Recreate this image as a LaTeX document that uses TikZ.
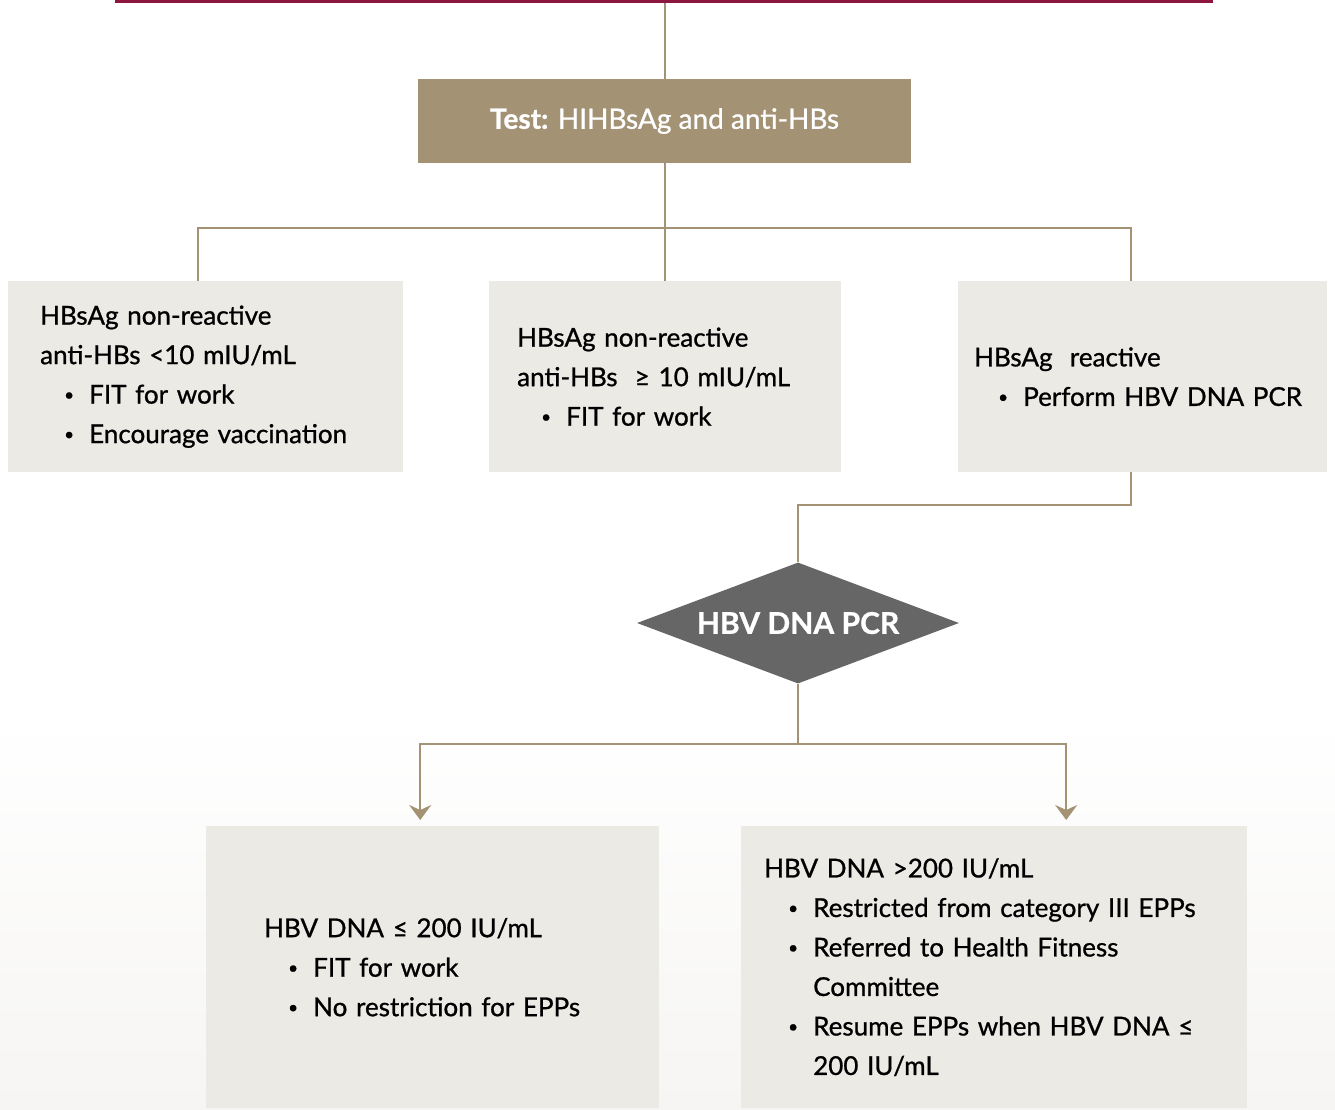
\documentclass[tikz,border=0pt]{standalone}
\usepackage{fontspec}
\setmainfont{Lato}[RawFeature={embolden=0.9}]
\usetikzlibrary{arrows.meta,shapes.geometric}

\definecolor{crimson}{RGB}{140,22,64}
\definecolor{tan}{RGB}{163,147,116}
\definecolor{boxgrey}{RGB}{236,234,229}
\definecolor{diagrey}{RGB}{102,102,102}

\newcommand{\dotmark}{\raisebox{3pt}{\fontsize{17}{17}\selectfont\textbullet}}
\newcommand{\itm}[1]{\hspace*{24pt}\makebox[25pt][l]{\dotmark}#1}
\newcommand{\cont}[1]{\hspace*{49pt}#1}

\tikzset{
  box/.style={rectangle, fill=boxgrey, anchor=north west, inner ysep=0pt,
    minimum height=191pt, align=left, font=\fontsize{26}{39.5}\selectfont},
  testbox/.style={rectangle, fill=tan, text=white, minimum width=493pt,
    minimum height=84pt, font=\fontsize{28}{32}\selectfont},
  decision/.style={diamond, fill=diagrey, text=white, inner sep=0pt, aspect=2.66,
    minimum width=322pt, minimum height=121pt, font=\fontsize{30}{34}\selectfont\bfseries},
  link/.style={draw=tan, line width=2pt},
  arr/.style={link, -{Stealth[length=15pt,width=22pt,inset=5pt]}, shorten >=6pt}
}

\begin{document}
\begin{tikzpicture}[x=1pt, y=-1pt]
  \useasboundingbox (0,0) rectangle (1335,1109);
  \fill[top color=white, bottom color={rgb,255:red,246;green,245;blue,243}] (0,715) rectangle (1335,1109);
  \draw[crimson, line width=3pt] (115,1.5) -- (1213,1.5);

  \coordinate (top) at (664.5,3);
  \node (test) [testbox] at (664.5,121) {\textbf{Test:} HIHBsAg and anti-HBs};

  \node (nonimm) [box, text width=331pt, inner xsep=32pt] at (8,281)
    {HBsAg non-reactive\\ anti-HBs <10 mIU/mL\\ \itm{FIT for work}\\ \itm{Encourage vaccination}};
  \node (immune) [box, text width=296pt, inner xsep=28pt] at (489,281)
    {HBsAg non-reactive\\ anti-HBs \ ≥ 10 mIU/mL\\ \itm{FIT for work}};
  \node (reactive) [box, text width=337pt, inner xsep=16pt] at (958,281)
    {HBsAg \ reactive\\ \itm{Perform HBV DNA PCR}};

  \node (dna) [decision] at (798,623) {HBV DNA PCR};

  \node (low) [box, text width=337pt, inner xsep=58pt, minimum height=282pt] at (206,826)
    {HBV DNA ≤ 200 IU/mL\\ \itm{FIT for work}\\ \itm{No restriction for EPPs}};
  \node (high) [box, text width=460pt, inner xsep=23pt, minimum height=282pt] at (741,826)
    {HBV DNA >200 IU/mL\\ \itm{Restricted from category III EPPs}\\ \itm{Referred to Health Fitness}\\
     \cont{Committee}\\ \itm{Resume EPPs when HBV DNA ≤}\\ \cont{200 IU/mL}};

  \draw[link] (top) -- (test.north);
  \draw[link] (test.south) -- (test.south |- immune.north);
  \draw[link] ([xshift=-7.5pt]nonimm.north) -- ++(0,-53) -| ([xshift=-11.5pt]reactive.north);
  \draw[link] ([xshift=-11.5pt]reactive.south) -- ++(0,33) -| (dna.north);
  \draw[link] (dna.south) -- ++(0,60) coordinate (split);
  \draw[arr] (split) -| ([xshift=-12.5pt]low.north);
  \draw[arr] (split) -| ([xshift=72pt]high.north);
\end{tikzpicture}
\end{document}
